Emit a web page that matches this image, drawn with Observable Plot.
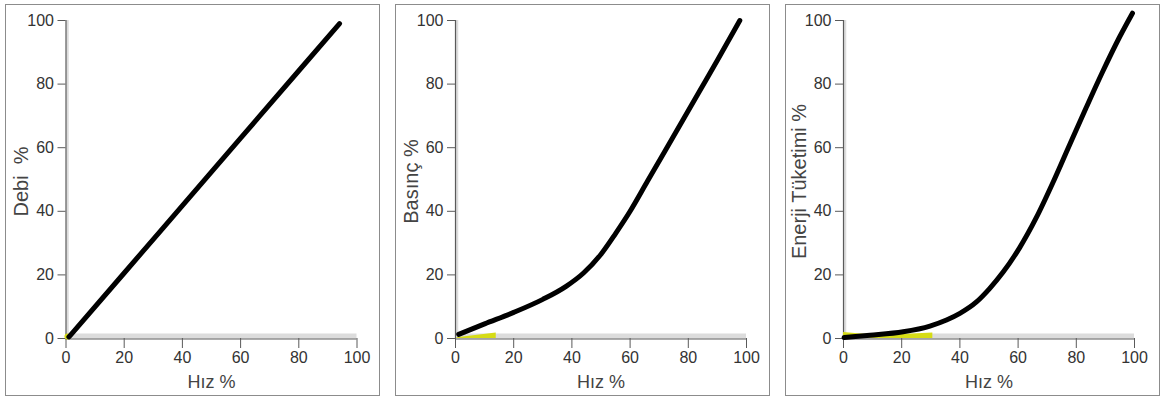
<!DOCTYPE html>
<html><head><meta charset="utf-8">
<script src="https://cdn.jsdelivr.net/npm/d3@7"></script>
<script src="https://cdn.jsdelivr.net/npm/@observablehq/plot@0.6"></script>
<style>
body{margin:0;background:#fff;width:1161px;height:398px;overflow:hidden;position:relative;font-family:"Liberation Sans",Arial,sans-serif}
.panel{position:absolute;top:4px;border:1.5px solid #8c8c8c;width:373px;height:390px;background:#fff}
.panel svg{display:block}
</style></head><body>
<div id="p1" class="panel" style="left:5px"></div>
<div id="p2" class="panel" style="left:395px"></div>
<div id="p3" class="panel" style="left:785px"></div>
<script>
// ---- data ----
const xTicks = [0, 20, 40, 60, 80, 100];
const yTicks = [0, 20, 40, 60, 80, 100];
const xLabel = "Hız %";
const yLabels = ["Debi\u00a0\u00a0%", "Basınç %", "Enerji Tüketimi %"];

// Panel 1: Debi vs Hız
const debiHiz = [1, 20, 40, 60, 80, 94];
const debiVal = [0.5, 20.6, 41.8, 63, 84.2, 99];
const debiYellowHiz = [0.5];
const debiYellowVal = [0.6];

// Panel 2: Basınç vs Hız
const basincHiz = [1.1, 10, 20, 30, 38, 44, 50, 55, 60, 66, 72, 78, 84, 90, 97.7];
const basincVal = [1.3, 4.6, 8.2, 12.3, 16.4, 20.6, 26.5, 33, 40, 49.5, 59, 68.5, 78, 87.5, 100];
const basincYellowHiz = [0.5, 14];
const basincYellowVal = [0.2, 1.7];

// Panel 3: Enerji Tüketimi vs Hız
const enerjiHiz = [0.2, 9.1, 20.5, 29.7, 35.4, 40, 45.7, 50.2, 54.8, 60.5, 66.2, 71.9, 77.6, 83.3, 89, 94.7, 99.3];
const enerjiVal = [0.3, 1.0, 2.1, 3.9, 5.8, 7.9, 11.5, 15.7, 20.8, 28.5, 37.9, 48.9, 60.7, 72.4, 83.8, 94.5, 102.3];
const enerjiYellowHiz = [0, 6, 14, 22, 30.7];
const enerjiYellowVal = [1.9, 1.4, 1.0, 1.3, 1.7];

const zip = (xs, ys) => xs.map((x, i) => ({x, y: ys[i]}));
const tickFont = '"Liberation Sans Narrow","Arial Narrow","Liberation Sans",Arial,sans-serif';
const labelFont = '"Liberation Sans",Arial,sans-serif';

function panel(id, ml, label, hiz, val, yHiz, yVal, yellowKind) {
  const W = 373, H = 390, pw = 291;
  const yellowData = zip(yHiz, yVal);
  const yellowMark = yellowKind === "dot"
    ? Plot.dot(yellowData, {x: "x", y: "y", r: 3, fill: "#d6dc16"})
    : Plot.areaY(yellowData, {x: "x", y: "y", fill: "#d6dc16"});
  const chart = Plot.plot({
    width: W, height: H,
    marginLeft: ml, marginRight: W - ml - pw, marginTop: 15, marginBottom: 57,
    x: {domain: [0, 100]},
    y: {domain: [0, 100]},
    style: {fontFamily: tickFont, fontSize: "16px", background: "#fff", overflow: "visible"},
    marks: [
      Plot.ruleY([0], {stroke: "#dcdcdc", strokeWidth: 5, dy: -2.5}),
      Plot.ruleX([0], {stroke: "#dcdcdc", strokeWidth: 2.5, dx: 1.5}),
      Plot.ruleY([0], {stroke: "#5a5a5a", strokeWidth: 1.2, dy: 0.5}),
      Plot.ruleX([0], {stroke: "#5a5a5a", strokeWidth: 1.2}),
      Plot.axisY({ticks: yTicks, tickSize: 8, tickPadding: 4, label: null, stroke: "#5a5a5a", fill: "#333"}),
      Plot.axisX({ticks: xTicks, tickSize: 10, tickPadding: 3, label: null, stroke: "#5a5a5a", fill: "#333"}),
      yellowMark,
      Plot.line(zip(hiz, val), {x: "x", y: "y", stroke: "#000", strokeWidth: 5, curve: "monotone-x"}),
      Plot.text([label], {frameAnchor: "left", textAnchor: "middle", rotate: -90, dx: -38, dy: 2, lineAnchor: "bottom",
        fontSize: 20, fontFamily: labelFont, fill: "#444"}),
      Plot.text([xLabel], {frameAnchor: "bottom", textAnchor: "middle", dy: 49, lineAnchor: "bottom",
        fontSize: 18, fontFamily: labelFont, fill: "#444"})
    ]
  });
  document.getElementById(id).appendChild(chart);
}

panel("p1", 59.5, yLabels[0], debiHiz, debiVal, debiYellowHiz, debiYellowVal, "dot");
panel("p2", 59, yLabels[1], basincHiz, basincVal, basincYellowHiz, basincYellowVal, "area");
panel("p3", 57, yLabels[2], enerjiHiz, enerjiVal, enerjiYellowHiz, enerjiYellowVal, "area");
</script>
</body></html>
